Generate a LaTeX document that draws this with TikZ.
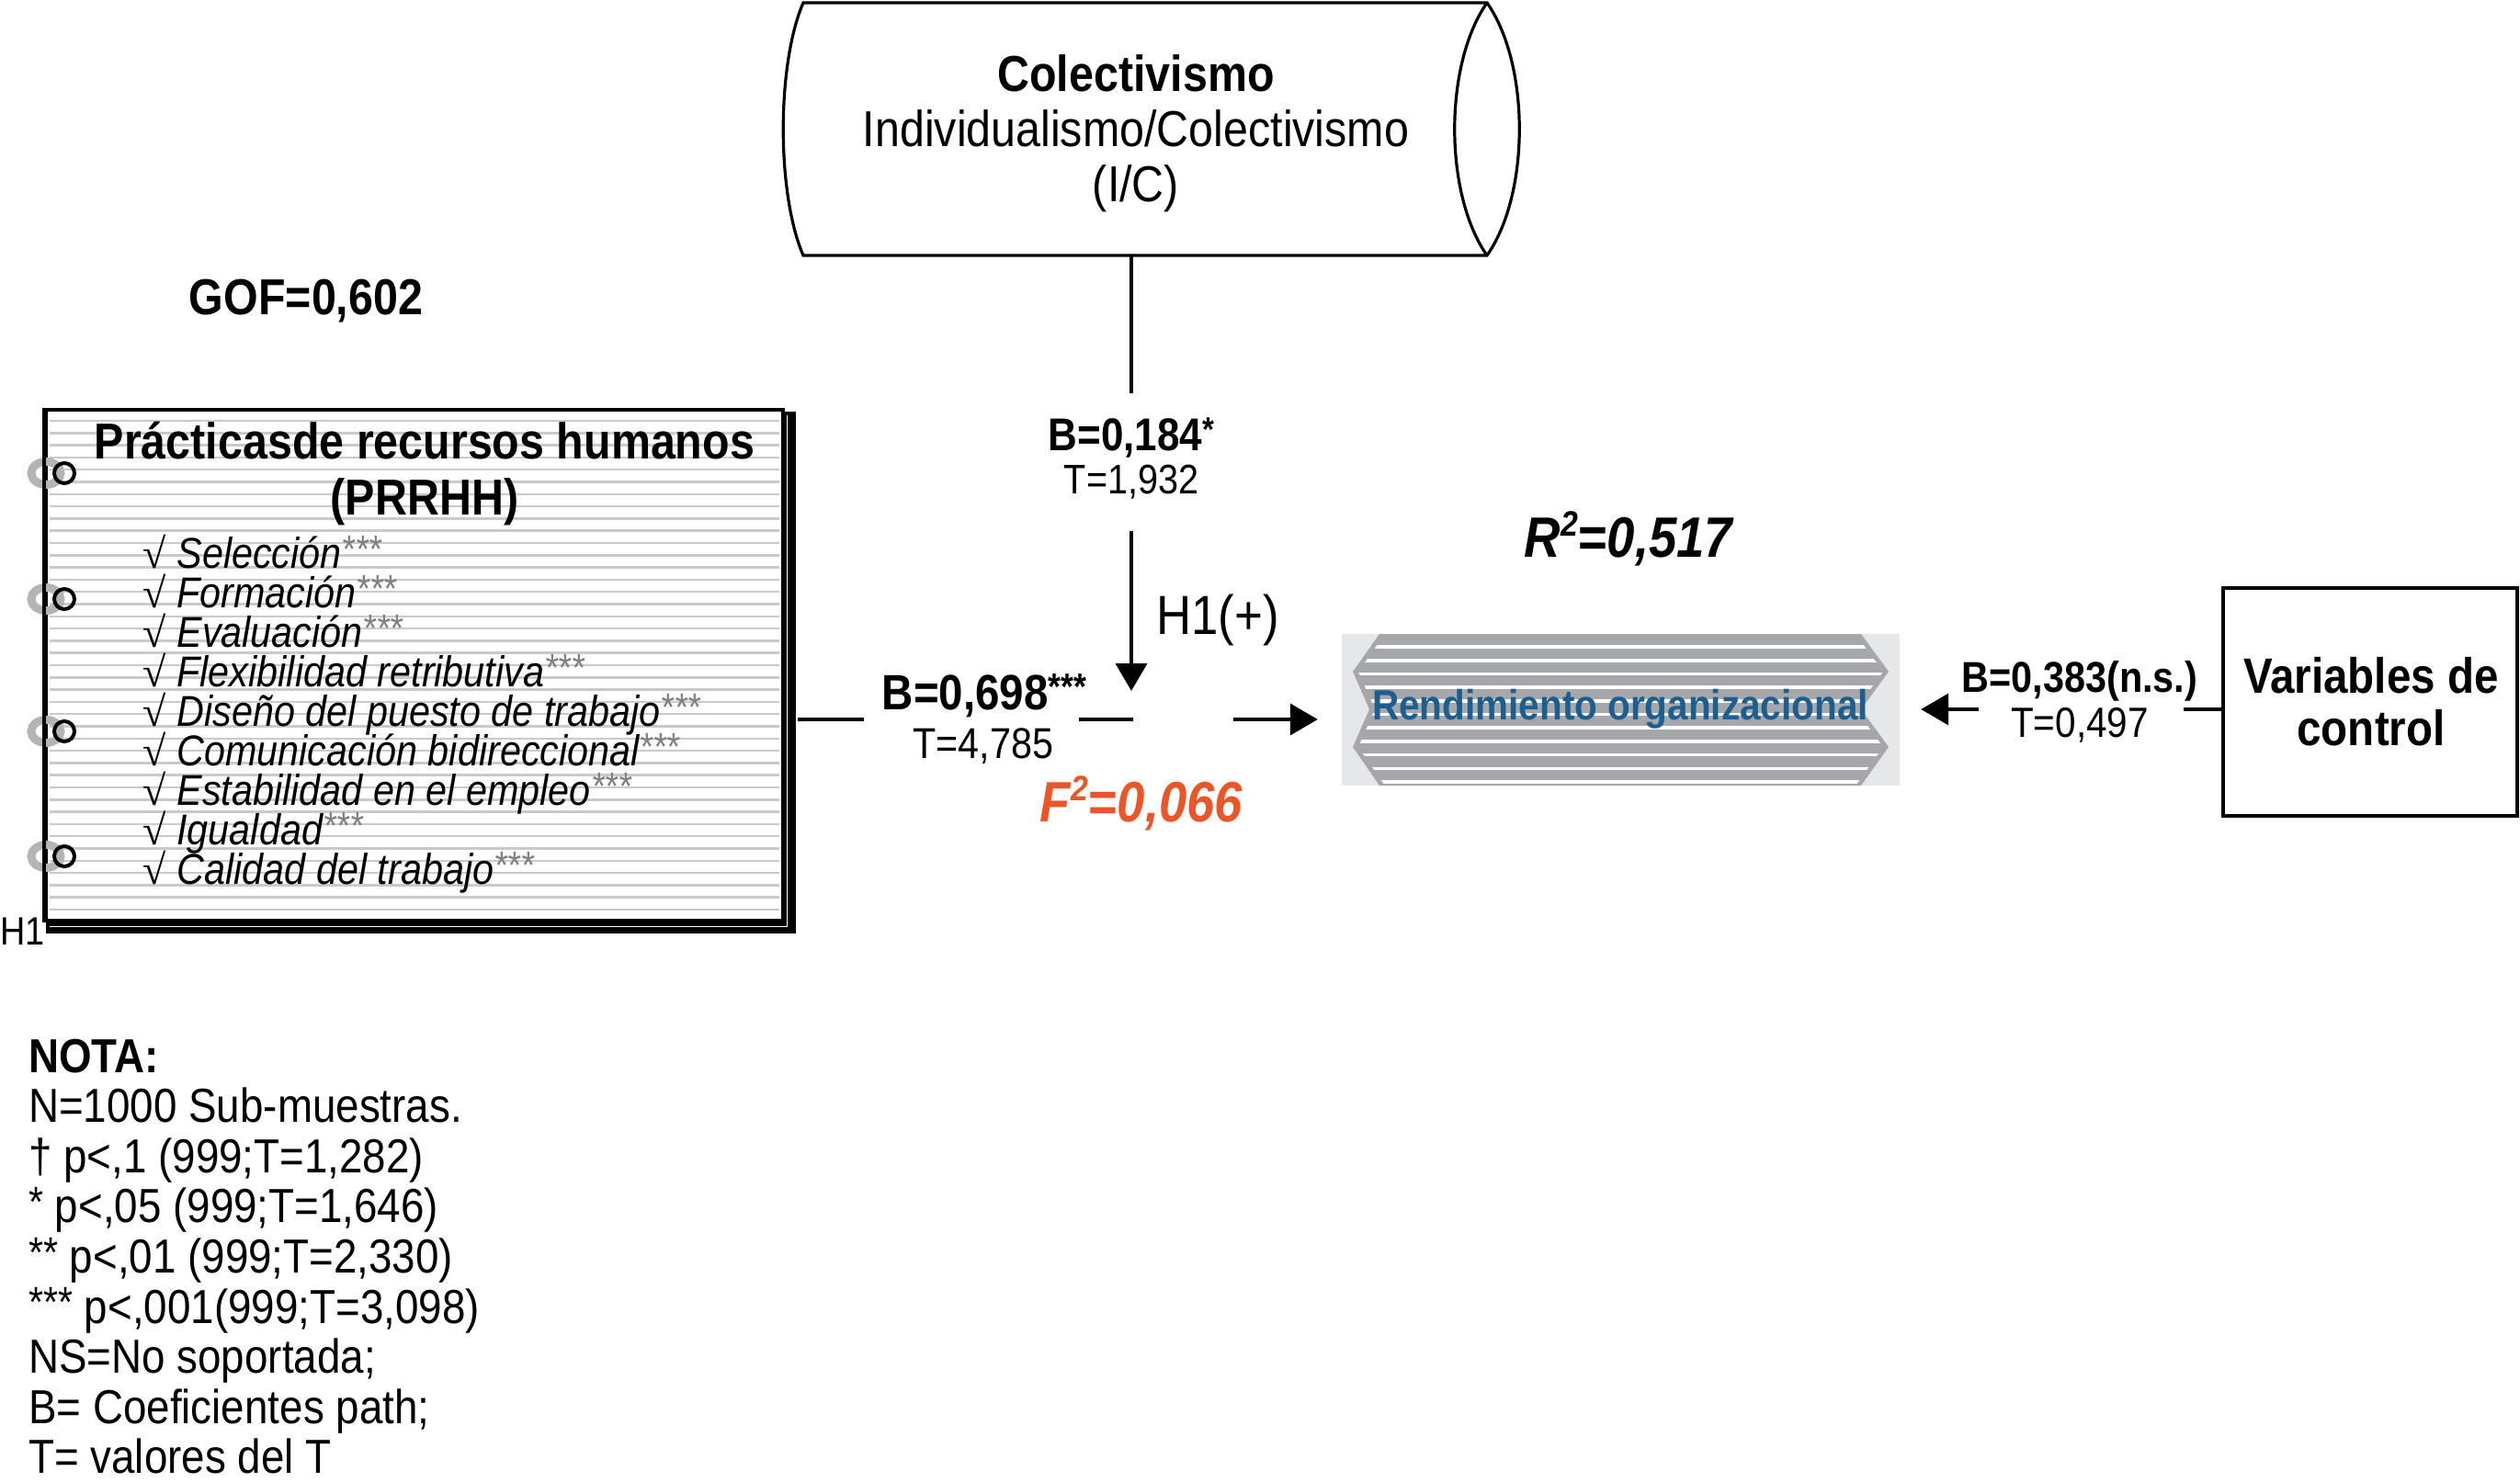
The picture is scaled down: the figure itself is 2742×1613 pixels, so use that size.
\documentclass[tikz,border=0pt]{standalone}
\usepackage{fontspec}
\setmainfont{Liberation Sans}[FakeStretch=0.88]
\newfontfamily\radfont{Liberation Serif}
\usepackage{graphicx}
\usetikzlibrary{arrows.meta}
\definecolor{fcol}{HTML}{E8562A}
\definecolor{rblue}{HTML}{1B5E8F}
\definecolor{rbg}{HTML}{E6E7E8}
\definecolor{rstripe}{HTML}{A5A7AA}
\definecolor{ruled}{HTML}{CACACA}
\definecolor{ringgray}{HTML}{B4B4B4}
\newcommand\fsz[1]{\fontsize{#1}{#1}\selectfont}
\newcommand\stars[1]{\raisebox{0.2em}{\scalebox{0.75}{#1}}}
\newcommand\bigstars[1]{\raisebox{0.12em}{\scalebox{0.9}{#1}}}
\newcommand\sqr[1]{\raisebox{0.36em}{\scalebox{0.62}{#1}}}
\begin{document}
\begin{tikzpicture}[x=1pt,y=-1pt,
  txt/.style={inner sep=0pt, anchor=base},
  conn/.style={line width=3.8pt},
  arr/.style={conn, -{Triangle[length=30pt,width=34pt]}},
  item/.style={inner sep=0pt, anchor=base west, text height=33pt, text depth=9pt, font=\fsz{47}\itshape},
  note/.style={inner sep=0pt, anchor=base west, font=\fsz{52}},
]
\useasboundingbox (0,0) rectangle (2742,1613);

% ---------- Colectivismo (cylinder-like shape)
\draw[line width=3.2pt, fill=white] (874,3) -- (1618,3)
  .. controls (1665,70) and (1665,211) .. (1618,278) -- (874,278)
  .. controls (845,211) and (845,70) .. (874,3) -- cycle;
\draw[line width=3.2pt] (1618,3) .. controls (1571,70) and (1571,211) .. (1618,278);
\node[txt, font=\fsz{55}\bfseries] (colT1) at (1236,100) {Colectivismo};
\node[txt, font=\fsz{55}] (colT2) at (1236,160) {Individualismo/Colectivismo};
\node[txt, font=\fsz{55}] (colT3) at (1236,220) {(I/C)};
\coordinate (colS) at (1231,278);

% ---------- moderating path
\coordinate (m1) at (1231,428);
\draw[conn] (colS) -- (m1);
\node[txt, font=\fsz{50}\bfseries] (b184) at (1231,490) {B=0,184\stars{*}};
\node[txt, font=\fsz{45}] (t1932) at (1231,537) {T=1,932};
\coordinate (m2) at (1231,578);
\coordinate (m3) at (1231,752);
\draw[arr] (m2) -- (m3);
\node[txt, anchor=base west, font=\fsz{60}] (h1p) at (1258,690) {H1(+)};

% ---------- GOF
\node[txt, font=\fsz{55}\bfseries] (gof) at (333,342) {GOF=0,602};

% ---------- PRRHH notebook
\fill (50,448) rectangle (866,1016);
\draw[white, line width=1.5pt] (856.5,452) -- (856.5,1008.5) -- (54,1008.5);
\node[draw, fill=white, line width=4pt, minimum width=802pt, minimum height=556pt, inner sep=0pt] (prrhh) at (451,724) {};
\foreach \k in {0,...,40} \draw[ruled, line width=2.5pt] (54,458+13.3*\k) -- (848,458+13.3*\k);
\foreach \yy in {515,652,796,932} \draw[ringgray, line width=9pt] (50,\yy) ellipse [x radius=16pt, y radius=12.5pt];
\draw[line width=4pt] (prrhh.north west) -- (prrhh.south west);
\foreach \yy in {515,652,796,932} \draw[line width=4pt] (70,\yy) circle [radius=11pt];
\node[txt, font=\fsz{55}\bfseries] (tit1) at (462,499) {Prácticasde recursos humanos};
\node[txt, font=\fsz{55}\bfseries] (tit2) at (462,560) {(PRRHH)};
\foreach \itm [count=\i from 0] in {Selección,Formación,Evaluación,Flexibilidad retributiva,Diseño del puesto de trabajo,Comunicación bidireccional,Estabilidad en el empleo,Igualdad,Calidad del trabajo}
  \node[item] (it\i) at (155,618+43*\i) {{\radfont\upshape\fsz{46}√}\hspace{12pt}\itm\bigstars{\textcolor{black!50}{***}}};
\node[txt, anchor=base west, font=\fsz{43}] (h1lab) at (0,1028) {H1};

% ---------- main path
\coordinate (h1) at (940,783);
\coordinate (h2) at (1174,783);
\coordinate (h3) at (1233,783);
\coordinate (h4) at (1342,783);
\draw[conn] ([xshift=14pt]prrhh.east |- h1) -- (h1);
\node[txt, font=\fsz{54}\bfseries] (b698) at (1071,772) {B=0,698\stars{***}};
\node[txt, font=\fsz{47}] (t4785) at (1070,825) {T=4,785};
\draw[conn] (h2) -- (h3);
\node[txt, font=\fsz{62}\bfseries\itshape, text=fcol] (f2) at (1242,894) {F\sqr{2}=0,066};
\node[txt, font=\fsz{62}\bfseries\itshape] (r2) at (1772,606) {R\sqr{2}=0,517};

% ---------- Rendimiento organizacional
\node[fill=rbg, minimum width=607pt, minimum height=165pt, inner sep=0pt] (rend) at (1763.5,772.5) {};
\fill[rstripe] (1501,690) -- (2025,690) -- (2055,731) -- (2025,772) -- (2055,813) -- (2025,855)
  -- (1501,855) -- (1472,813) -- (1490,772) -- (1472,731) -- cycle;
\begin{scope}
  \clip (1507,690) -- (2019,690) -- (2049,731) -- (2019,772) -- (2049,813) -- (2019,855)
    -- (1507,855) -- (1478,813) -- (1496,772) -- (1478,731) -- cycle;
  \foreach \k in {0,...,10} \draw[white, line width=3.6pt] (1460,704+14.7*\k) -- (2067,704+14.7*\k);
\end{scope}
\node[txt, font=\fsz{46}\bfseries, text=rblue] (rendT) at (1763,783) {Rendimiento organizacional};
\draw[arr, shorten >=26pt] (h4) -- (rend.west |- h4);

% ---------- Variables de control
\node[draw, line width=4pt, minimum width=320pt, minimum height=248pt, inner sep=0pt] (vars) at (2579,764) {};
\node[txt, font=\fsz{54}\bfseries] (varT1) at (2580,754) {Variables de};
\node[txt, font=\fsz{54}\bfseries] (varT2) at (2580,811) {control};
\coordinate (v1) at (2376,772);
\coordinate (v2) at (2153,772);
\draw[conn] (vars.west |- v1) -- (v1);
\draw[arr, shorten >=23pt] (v2) -- (rend.east |- v2);
\node[txt, font=\fsz{47}\bfseries] (b383) at (2263,753) {B=0,383(n.s.)};
\node[txt, font=\fsz{46}] (t497) at (2263,802) {T=0,497};

% ---------- NOTA
\foreach \nl [count=\i from 0] in {{\bfseries NOTA:},{N=1000 Sub-muestras.},{† p<,1 (999;T=1,282)},{\bigstars{*} p<,05 (999;T=1,646)},{\bigstars{**} p<,01 (999;T=2,330)},{\bigstars{***} p<,001(999;T=3,098)},{NS=No soportada;},{B= Coeficientes path;},{T= valores del T}}
  \node[note] (nota\i) at (31,1167+54.6*\i) {\nl};
\end{tikzpicture}
\end{document}
